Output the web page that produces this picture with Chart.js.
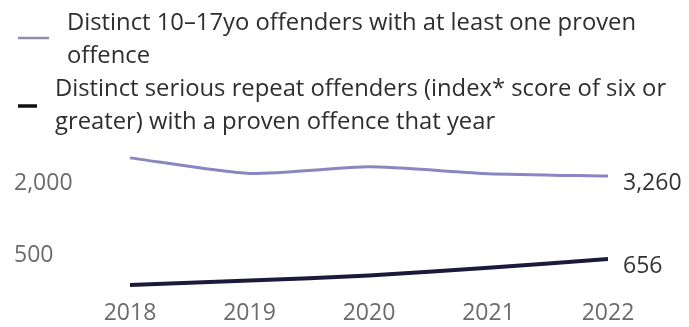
<!DOCTYPE html>
<html>
<head>
<meta charset="utf-8">
<style>
  html, body { margin: 0; padding: 0; background: #fff; }
  #wrap { width: 689px; height: 327px; }
</style>
</head>
<body>
<div id="wrap"><canvas id="myChart" width="689" height="327"></canvas></div>
<script src="https://cdn.jsdelivr.net/npm/chart.js@4/dist/chart.umd.min.js"></script>
<script>
// yearly counts, youth offenders
const years = ['2018', '2019', '2020', '2021', '2022'];
const allOffenders = [4640, 3430, 3900, 3420, 3260];
const seriousRepeat = [397, 432, 477, 554, 656];
const yTicks = [500, 2000];
const seriesNames = [
  ['Distinct 10–17yo offenders with at least one proven', 'offence'],
  ['Distinct serious repeat offenders (index* score of six or', 'greater) with a proven offence that year']
];

Chart.defaults.font.family = '"Open Sans"';
Chart.defaults.font.size = 23;

const fmt = v => v.toLocaleString('en-US');

// legend drawn by hand so the long names can wrap over two lines
const wrappedLegend = {
  id: 'wrappedLegend',
  afterDraw(chart, args, opts) {
    const ctx = chart.ctx;
    ctx.save();
    ctx.font = opts.font;
    ctx.fillStyle = opts.color;
    ctx.textAlign = 'left';
    ctx.textBaseline = 'alphabetic';
    opts.items.forEach((item, k) => {
      seriesNames[k].forEach((line, i) => {
        ctx.fillText(line, item.x, item.baseline + i * opts.lineGap);
      });
      ctx.strokeStyle = item.markColor;
      ctx.lineWidth = item.markWidth;
      ctx.beginPath();
      ctx.moveTo(18, item.markY);
      ctx.lineTo(item.markEnd, item.markY);
      ctx.stroke();
    });
    ctx.restore();
  }
};

// value printed after the last point of each line
const endLabels = {
  id: 'endLabels',
  afterDatasetsDraw(chart, args, opts) {
    const ctx = chart.ctx;
    ctx.save();
    ctx.font = opts.font;
    ctx.fillStyle = opts.color;
    ctx.textAlign = 'left';
    ctx.textBaseline = 'middle';
    chart.data.datasets.forEach((ds, i) => {
      const meta = chart.getDatasetMeta(i);
      const last = meta.data[meta.data.length - 1];
      ctx.fillText(fmt(ds.data[ds.data.length - 1]), last.x + 15, last.y + 7);
    });
    ctx.restore();
  }
};

const ctx = document.getElementById('myChart');
new Chart(ctx, {
  type: 'line',
  data: {
    labels: years,
    datasets: [
      {
        label: seriesNames[0].join(' '),
        data: allOffenders,
        borderColor: '#8a86c2',
        borderWidth: 3,
        pointRadius: 0,
        tension: 0.2,
      },
      {
        label: seriesNames[1].join(' '),
        data: seriousRepeat,
        borderColor: '#1c1a3a',
        borderWidth: 4,
        pointRadius: 0,
        tension: 0.2,
      },
    ]
  },
  options: {
    responsive: false,
    animation: false,
    layout: {padding: {top: 154, left: 14, right: 81, bottom: 0}},
    plugins: {
      legend: {display: false},
      tooltip: {enabled: false},
      wrappedLegend: {
        font: '23.8px "Open Sans"',
        color: '#2e2e2e',
        lineGap: 33,
        items: [
          {x: 67, baseline: 30, markY: 38, markEnd: 49, markColor: '#908dac', markWidth: 2.5},
          {x: 55, baseline: 96, markY: 106, markEnd: 37, markColor: '#111', markWidth: 3.5},
        ]
      },
      endLabels: {font: '23px "Open Sans"', color: '#333'},
    },
    scales: {
      x: {
        grid: {display: false, drawTicks: false},
        border: {display: false},
        ticks: {color: '#6b6b6b', padding: 8, maxRotation: 0},
        afterFit: s => { s.height = 35.5; },
      },
      y: {
        type: 'logarithmic',
        min: 350,
        max: 5000,
        bounds: 'data',
        grid: {display: false},
        border: {display: false},
        afterBuildTicks: s => { s.ticks = yTicks.map(v => ({value: v})); },
        afterFit: s => { s.width = 116; },
        ticks: {
          color: '#6b6b6b',
          crossAlign: 'far',
          labelOffset: -18,
          callback: v => fmt(v),
        },
      },
    }
  },
  plugins: [wrappedLegend, endLabels],
});
</script>
</body>
</html>
